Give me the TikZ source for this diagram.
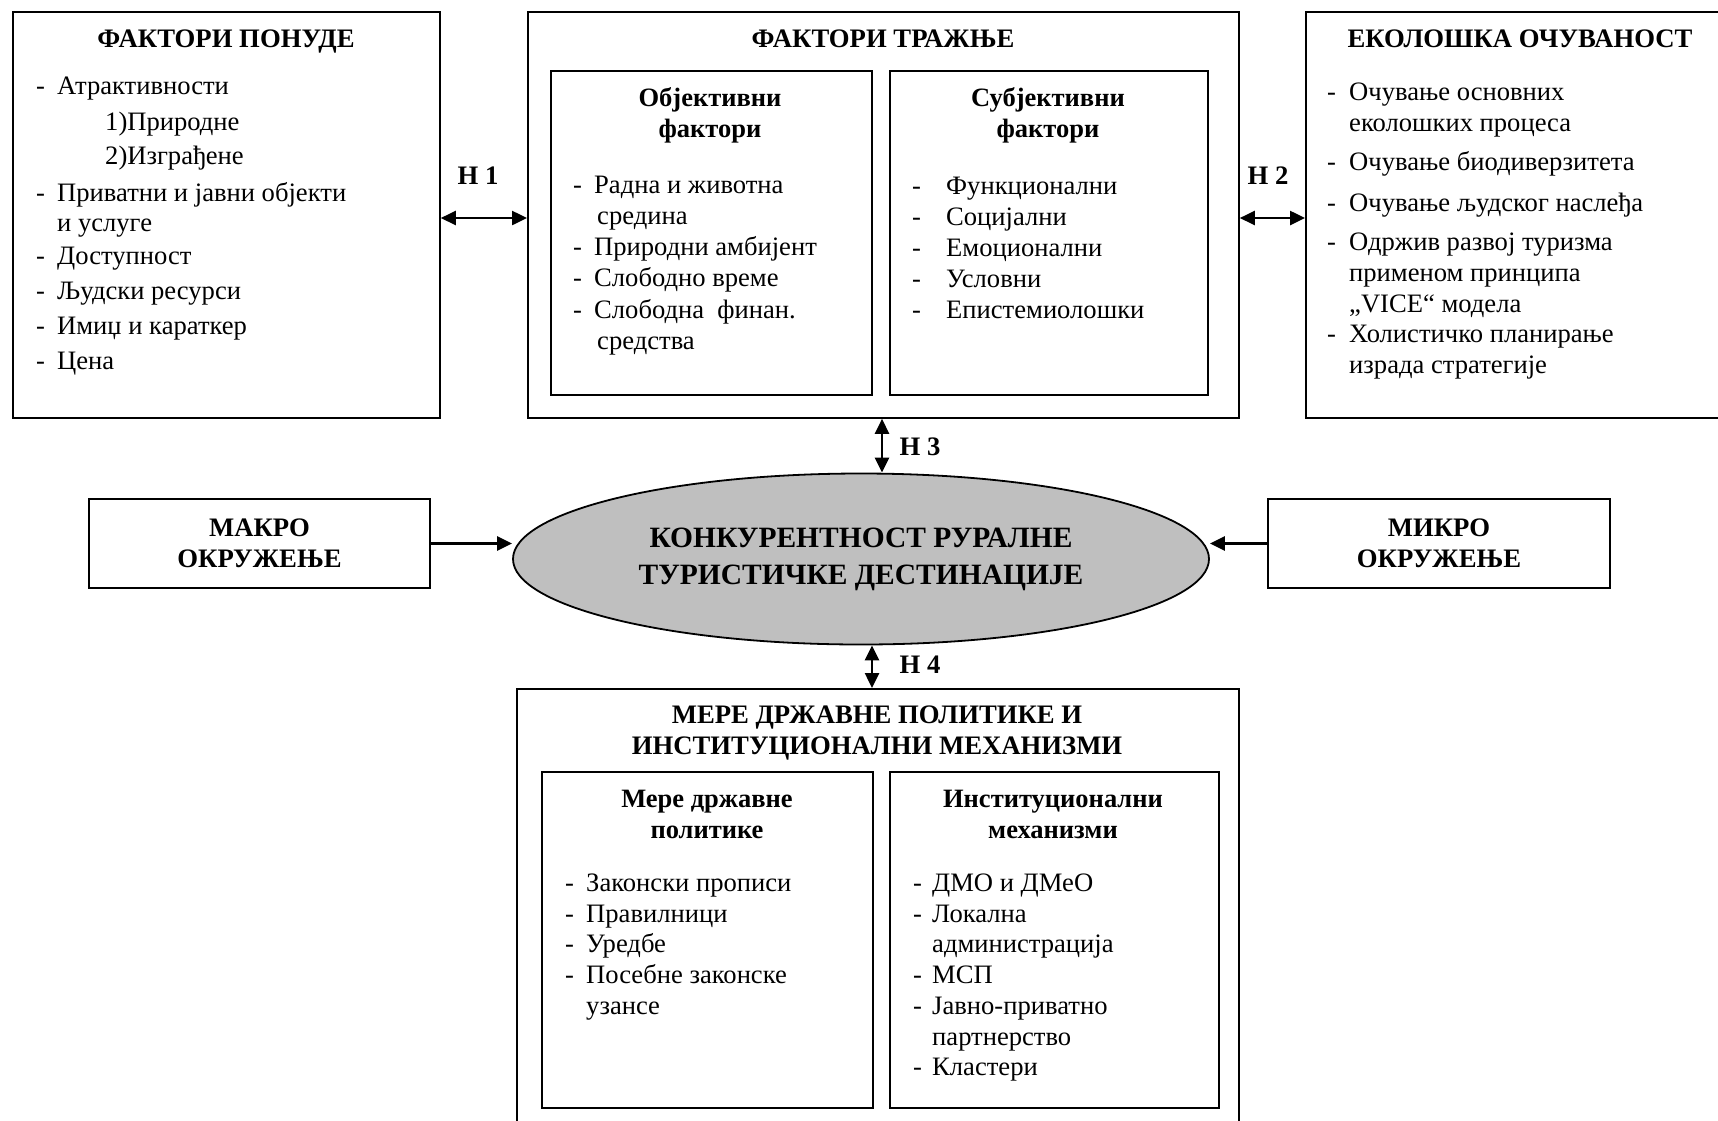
\documentclass[tikz,border=0pt]{standalone}
\usepackage{fontspec}
\setmainfont{Liberation Serif}
\usetikzlibrary{arrows.meta,shapes.geometric}
\newcommand\dashitem[2]{\makebox[#1][l]{-}#2}
\begin{document}
\begin{tikzpicture}[x=1pt,y=-1pt,
  frame/.style={draw, line width=1.8pt, rectangle, inner sep=0pt, anchor=north west},
  ttl/.style={font=\bfseries\fontsize{26.7}{31}\selectfont, anchor=base, inner sep=0pt},
  hdr/.style={font=\bfseries\fontsize{26.5}{31}\selectfont, anchor=base, inner sep=0pt},
  lst/.style={font=\fontsize{26.6}{30}\selectfont, anchor=base west, inner sep=0pt},
  link/.style={line width=2.5pt, {Triangle[length=15pt,width=14pt]}-{Triangle[length=15pt,width=14pt]}},
  single/.style={line width=2.8pt, -{Triangle[length=15pt,width=14pt]}},
  env/.style={draw, line width=1.8pt, rectangle, inner sep=0pt, align=center,
    font=\bfseries\fontsize{26.7}{31}\selectfont}]
\useasboundingbox (0,0) rectangle (1718,1120);
\fill[white] (0,0) rectangle (1718,1120);

% boxes
\node[frame, minimum width=427pt, minimum height=406pt] (pon) at (12,11) {};
\node[frame, minimum width=711pt, minimum height=406pt] (tra) at (527,11) {};
\node[frame, minimum width=321pt, minimum height=324pt] (obj) at (550,70) {};
\node[frame, minimum width=318pt, minimum height=324pt] (sub) at (889,70) {};
\node[frame, minimum width=440pt, minimum height=406pt] (eko) at (1305,11) {};
\node[frame, minimum width=722pt, minimum height=460pt] (mer) at (516,688) {};
\node[frame, minimum width=331pt, minimum height=336pt] (merL) at (541,771) {};
\node[frame, minimum width=329pt, minimum height=336pt] (merR) at (889,771) {};

\node[env, minimum width=341pt, minimum height=89pt] (mak) at (259.5,543.5) {МАКРО\\ОКРУЖЕЊЕ};
\node[env, minimum width=342pt, minimum height=89pt] (mik) at (1439,543.5) {МИКРО\\ОКРУЖЕЊЕ};
\node[draw, ellipse, line width=1.8pt, fill=black!25, minimum width=696pt, minimum height=171pt,
  inner sep=0pt, align=center, font=\bfseries\fontsize{29.5}{37}\selectfont] (ell) at (861,559)
  {КОНКУРЕНТНОСТ РУРАЛНЕ\\ТУРИСТИЧКЕ ДЕСТИНАЦИЈЕ};

% titles
\node[ttl] (ponH) at (226,47) {ФАКТОРИ ПОНУДЕ};
\node[ttl] (traH) at (883,47) {ФАКТОРИ ТРАЖЊЕ};
\node[ttl] (ekoH) at (1520,47) {ЕКОЛОШКА ОЧУВАНОСТ};
\node[hdr] (objH) at (710,106) {\begin{tabular}[t]{@{}c@{}}Објективни\\фактори\end{tabular}};
\node[hdr] (subH) at (1048,106) {\begin{tabular}[t]{@{}c@{}}Субјективни\\фактори\end{tabular}};
\node[ttl] (merH) at (877,723) {\begin{tabular}[t]{@{}c@{}}МЕРЕ ДРЖАВНЕ ПОЛИТИКЕ И\\ИНСТИТУЦИОНАЛНИ МЕХАНИЗМИ\end{tabular}};
\node[hdr] (merLH) at (707,807) {\begin{tabular}[t]{@{}c@{}}Мере државне\\политике\end{tabular}};
\node[hdr] (merRH) at (1053,807) {\begin{tabular}[t]{@{}c@{}}Институционални\\механизми\end{tabular}};

% lists
\node[lst] (ponT) at (36,94) {\begin{tabular}[t]{@{}l@{}}
\dashitem{21pt}{Атрактивности}\\[6pt]
\hspace{69pt}1)Природне\\[4pt]
\hspace{69pt}2)Изграђене\\[7pt]
\dashitem{21pt}{Приватни и јавни објекти}\\
\hspace{21pt}и услуге\\[3pt]
\dashitem{21pt}{Доступност}\\[5pt]
\dashitem{21pt}{Људски ресурси}\\[5pt]
\dashitem{21pt}{Имиџ и караткер}\\[5pt]
\dashitem{21pt}{Цена}
\end{tabular}};

\node[lst] (objT) at (573,193) {\begin{tabular}[t]{@{}l@{}}
\dashitem{21pt}{Радна и животна}\\[1pt]
\hspace{24pt}средина\\[1pt]
\dashitem{21pt}{Природни амбијент}\\[1pt]
\dashitem{21pt}{Слободно време}\\[2pt]
\dashitem{21pt}{Слободна\ \ финан.}\\[1pt]
\hspace{24pt}средства
\end{tabular}};

\node[lst] (subT) at (912,194) {\begin{tabular}[t]{@{}l@{}}
\dashitem{34pt}{Функционални}\\[1pt]
\dashitem{34pt}{Социјални}\\[1pt]
\dashitem{34pt}{Емоционални}\\[1pt]
\dashitem{34pt}{Условни}\\[1pt]
\dashitem{34pt}{Епистемиолошки}
\end{tabular}};

\node[lst] (ekoT) at (1327,100) {\begin{tabular}[t]{@{}l@{}}
\dashitem{22pt}{Очување основних}\\[1pt]
\hspace{22pt}еколошких процеса\\[9pt]
\dashitem{22pt}{Очување биодиверзитета}\\[11pt]
\dashitem{22pt}{Очување људског наслеђа}\\[9pt]
\dashitem{22pt}{Одржив развој туризма}\\[1pt]
\hspace{22pt}применом принципа\\[1pt]
\hspace{22pt}„VICE“ модела\\
\dashitem{22pt}{Холистичко планирање}\\[1pt]
\hspace{22pt}израда стратегије
\end{tabular}};

\node[lst] (merLT) at (565,891) {\begin{tabular}[t]{@{}l@{}}
\dashitem{21pt}{Законски прописи}\\[1pt]
\dashitem{21pt}{Правилници}\\
\dashitem{21pt}{Уредбе}\\[1pt]
\dashitem{21pt}{Посебне законске}\\[1pt]
\hspace{21pt}узансе
\end{tabular}};

\node[lst] (merRT) at (913,891) {\begin{tabular}[t]{@{}l@{}}
\dashitem{19pt}{ДМО и ДМеО}\\[1pt]
\dashitem{19pt}{Локална}\\
\hspace{19pt}администрација\\[1pt]
\dashitem{19pt}{МСП}\\[1pt]
\dashitem{19pt}{Јавно-приватно}\\[1pt]
\hspace{19pt}партнерство\\
\dashitem{19pt}{Кластери}
\end{tabular}};

% hypothesis labels
\node[ttl] (h1l) at (478,184) {H 1};
\node[ttl] (h2l) at (1268,184) {H 2};
\node[ttl] (h3l) at (920,455) {H 3};
\node[ttl] (h4l) at (920,673) {H 4};

% connectors
\coordinate (h1) at (0,218);
\coordinate (h3) at (882,0);
\coordinate (h4) at (872,0);
\draw[link] (pon.east |- h1) -- (tra.west |- h1);
\draw[link] (tra.east |- h1) -- (eko.west |- h1);
\draw[link] (tra.south -| h3) -- (ell.north -| h3);
\draw[link] (ell.south -| h4) -- (mer.north -| h4);
\draw[single] (mak.east) -- (mak.east -| ell.west);
\draw[single] (mik.west) -- (mik.west -| ell.east);
\end{tikzpicture}
\end{document}
